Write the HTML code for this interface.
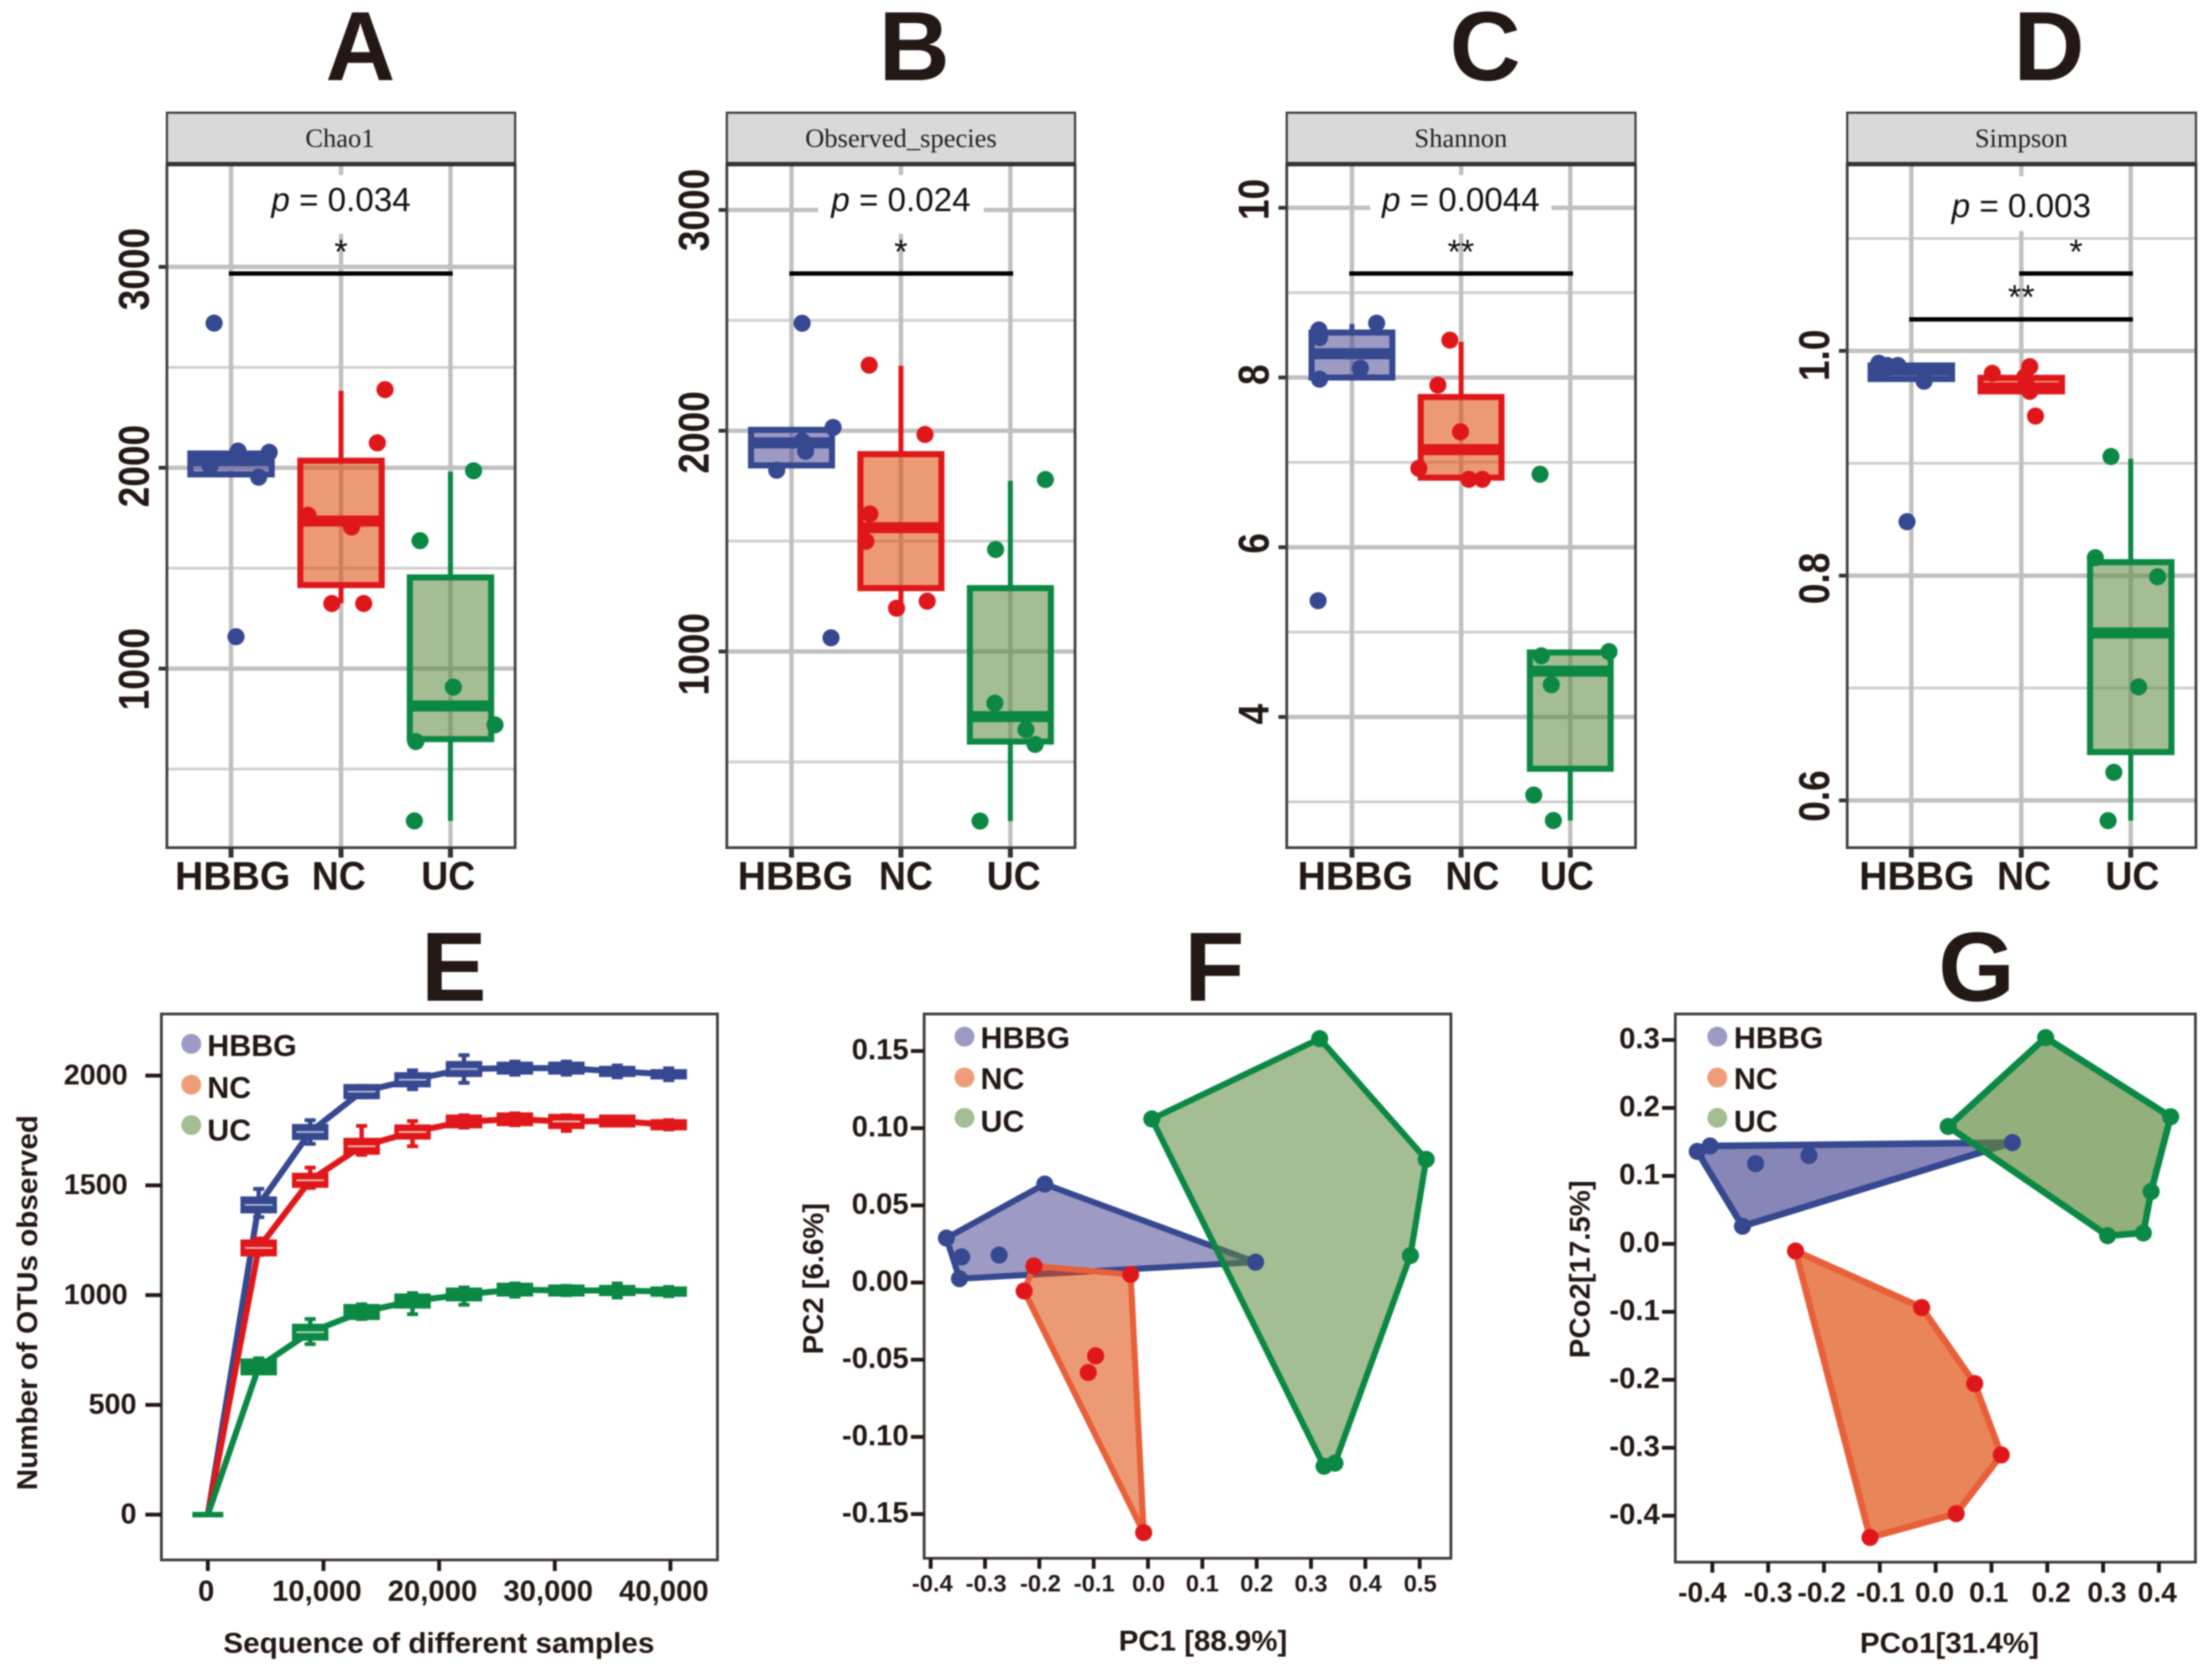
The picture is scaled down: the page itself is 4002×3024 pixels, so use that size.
<!DOCTYPE html>
<html lang="en">
<head>
<meta charset="utf-8">
<title>Alpha diversity, rarefaction and ordination panels</title>
<style>
html,body{margin:0;padding:0;background:#fff;width:4002px;height:3024px;overflow:hidden}
svg{display:block;filter:blur(1.4px)}
text{font-family:"Liberation Sans",sans-serif;fill:#231815}
.letter{font-size:178px;font-weight:700;text-anchor:middle}
.strip{font-family:"Liberation Serif",serif;font-size:48px;text-anchor:middle;fill:#222}
.pval{font-size:60px;text-anchor:middle;fill:#111}
.star{font-size:62px;text-anchor:middle;fill:#111}
.axt{font-size:52px;font-weight:700}
.leg{font-size:55px;font-weight:700}
</style>
</head>
<body>
<svg id="figure" xmlns="http://www.w3.org/2000/svg" width="4002" height="3024" viewBox="0 0 4002 3024">
<rect width="4002" height="3024" fill="#fff"/>

<text class="letter" x="652" y="145" textLength="126" lengthAdjust="spacingAndGlyphs">A</text>
<text class="letter" x="1654" y="145">B</text>
<text class="letter" x="2687" y="145">C</text>
<text class="letter" x="3707" y="145">D</text>
<text class="letter" x="821" y="1811">E</text>
<text class="letter" x="2197" y="1811">F</text>
<text class="letter" x="3576" y="1811">G</text>

<g id="panel-a"></g>
<g id="panel-b"></g>
<g id="panel-c"></g>
<g id="panel-d"></g>

<g>
  <rect x="302" y="204" width="630" height="92" fill="#d9d9d9" stroke="#404040" stroke-width="4"/>
  <rect x="302" y="293" width="630" height="8" fill="#333"/>
  <text class="strip" x="615" y="266">Chao1</text>
  <rect x="467" y="317" width="300" height="106" fill="#fff"/>
  <text class="pval" x="617" y="382"><tspan font-style="italic">p</tspan> = 0.034</text>
  <text class="star" x="617" y="477">*</text>
  <rect x="414" y="491" width="405" height="8" fill="#000"/>
</g>
<g>
  <rect x="1315" y="204" width="630" height="92" fill="#d9d9d9" stroke="#404040" stroke-width="4"/>
  <rect x="1315" y="293" width="630" height="8" fill="#333"/>
  <text class="strip" x="1630" y="266">Observed_species</text>
  <rect x="1480" y="317" width="300" height="106" fill="#fff"/>
  <text class="pval" x="1630" y="382"><tspan font-style="italic">p</tspan> = 0.024</text>
  <text class="star" x="1630" y="477">*</text>
  <rect x="1428" y="491" width="405" height="8" fill="#000"/>
</g>
<g>
  <rect x="2328" y="204" width="631" height="92" fill="#d9d9d9" stroke="#404040" stroke-width="4"/>
  <rect x="2328" y="293" width="631" height="8" fill="#333"/>
  <text class="strip" x="2643" y="266">Shannon</text>
  <rect x="2479" y="317" width="328" height="106" fill="#fff"/>
  <text class="pval" x="2643" y="382"><tspan font-style="italic">p</tspan> = 0.0044</text>
  <text class="star" x="2643" y="477">**</text>
  <rect x="2441" y="491" width="405" height="8" fill="#000"/>
</g>
<g>
  <rect x="3342" y="204" width="631" height="92" fill="#d9d9d9" stroke="#404040" stroke-width="4"/>
  <rect x="3342" y="293" width="631" height="8" fill="#333"/>
  <text class="strip" x="3657" y="266">Simpson</text>
  <rect x="3507" y="319" width="300" height="99" fill="#fff"/>
  <text class="pval" x="3657" y="393"><tspan font-style="italic">p</tspan> = 0.003</text>
  <text class="star" x="3756" y="477">*</text>
  <rect x="3653" y="491" width="206" height="8" fill="#000"/>
  <text class="star" x="3657" y="559">**</text>
  <rect x="3454" y="574" width="405" height="8" fill="#000"/>
</g>

<g id="panel-e"></g>
<g id="panel-f"></g>
<g id="panel-g"></g>

<text class="axt" x="404" y="2991" textLength="780" lengthAdjust="spacingAndGlyphs">Sequence of different samples</text>
<text class="axt" transform="translate(67,2697) rotate(-90)" textLength="679" lengthAdjust="spacingAndGlyphs">Number of OTUs observed</text>
<text class="axt" x="2024" y="2987" textLength="305" lengthAdjust="spacingAndGlyphs">PC1 [88.9%]</text>
<text class="axt" transform="translate(1489,2451) rotate(-90)" textLength="274" lengthAdjust="spacingAndGlyphs">PC2 [6.6%]</text>
<text class="axt" x="3365" y="2991" textLength="324" lengthAdjust="spacingAndGlyphs">PCo1[31.4%]</text>
<text class="axt" transform="translate(2876,2458) rotate(-90)" textLength="322" lengthAdjust="spacingAndGlyphs">PCo2[17.5%]</text>

<g>
  <circle cx="346" cy="1889" r="18" fill="#9d9ac4"/>
  <text class="leg" x="375" y="1911">HBBG</text>
  <circle cx="346" cy="1963" r="18" fill="#ee9d78"/>
  <text class="leg" x="375" y="1987">NC</text>
  <circle cx="346" cy="2036" r="18" fill="#a5bd93"/>
  <text class="leg" x="375" y="2064">UC</text>
</g>
<g>
  <circle cx="1745" cy="1876" r="18" fill="#9d9ac4"/>
  <text class="leg" x="1774" y="1897">HBBG</text>
  <circle cx="1745" cy="1950" r="18" fill="#ee9d78"/>
  <text class="leg" x="1774" y="1971">NC</text>
  <circle cx="1745" cy="2023" r="18" fill="#a5bd93"/>
  <text class="leg" x="1774" y="2048">UC</text>
</g>
<g>
  <circle cx="3107" cy="1876" r="18" fill="#9d9ac4"/>
  <text class="leg" x="3137" y="1897">HBBG</text>
  <circle cx="3107" cy="1950" r="18" fill="#ee9d78"/>
  <text class="leg" x="3137" y="1971">NC</text>
  <circle cx="3107" cy="2023" r="18" fill="#a5bd93"/>
  <text class="leg" x="3137" y="2048">UC</text>
</g>
</svg>

<script>
/* ---------- shared categories ---------- */
const groups = ['HBBG', 'NC', 'UC'];

/* ---------- A: Chao1 ---------- */
const chao1Ticks = [1000, 2000, 3000];
const chao1TickLabels = ['1000', '2000', '3000'];
const chao1Minor = [500, 1500, 2500];
const chao1Q1 = [1967, 1416, 649];
const chao1Median = [2036, 1735, 814];
const chao1Q3 = [2071, 2035, 1454];
const chao1Low = [1967, 1325, 242];
const chao1High = [2071, 2383, 1980];
const chao1Values = [[2720, 1159, 2083, 2077, 1953, 2009], [2389, 2124, 1764, 1705, 1324, 1324], [1985, 1637, 908, 720, 637, 242]];
const chao1Jitter = [[-0.154, 0.045, 0.064, 0.347, 0.251, -0.19], [0.40, 0.33, -0.30, 0.096, -0.084, 0.206], [0.21, -0.277, 0.026, 0.405, -0.315, -0.328]];

/* ---------- B: Observed_species ---------- */
const speciesTicks = [1000, 2000, 3000];
const speciesTickLabels = ['1000', '2000', '3000'];
const speciesMinor = [500, 1500, 2500];
const speciesQ1 = [1843, 1287, 592];
const speciesMedian = [1945, 1561, 705];
const speciesQ3 = [2004, 1894, 1287];
const speciesLow = [1843, 1196, 232];
const speciesHigh = [2004, 2294, 1773];
const speciesValues = [[2487, 1062, 2015, 1907, 1821, 1953], [2297, 1983, 1623, 1499, 1196, 1228], [1779, 1462, 766, 646, 579, 232]];
const speciesJitter = [[0.097, 0.361, 0.38, 0.129, -0.135, 0.097], [-0.29, 0.22, -0.284, -0.32, -0.04, 0.24], [0.32, -0.135, -0.142, 0.142, 0.226, -0.277]];

/* ---------- C: Shannon ---------- */
const shannonTicks = [4, 6, 8, 10];
const shannonTickLabels = ['4', '6', '8', '10'];
const shannonMinor = [3, 5, 7, 9];
const shannonQ1 = [8.0, 6.82, 3.39];
const shannonMedian = [8.28, 7.15, 4.54];
const shannonQ3 = [8.53, 7.77, 4.76];
const shannonLow = [8.0, 6.82, 2.78];
const shannonHigh = [8.63, 8.42, 4.76];
const shannonValues = [[8.64, 8.56, 8.47, 8.11, 7.98, 5.37], [8.44, 7.91, 7.36, 6.93, 6.80, 6.80], [6.86, 4.77, 4.72, 4.38, 3.08, 2.78]];
const shannonJitter = [[0.226, -0.303, -0.297, 0.077, -0.297, -0.31], [-0.103, -0.213, -0.006, -0.387, 0.071, 0.194], [-0.277, 0.355, -0.265, -0.174, -0.335, -0.155]];

/* ---------- D: Simpson ---------- */
const simpsonTicks = [0.6, 0.8, 1.0];
const simpsonTickLabels = ['0.6', '0.8', '1.0'];
const simpsonMinor = [0.7, 0.9, 1.1];
const simpsonQ1 = [0.975, 0.964, 0.643];
const simpsonMedian = [0.983, 0.967, 0.749];
const simpsonQ3 = [0.987, 0.976, 0.812];
const simpsonLow = [0.975, 0.964, 0.582];
const simpsonHigh = [0.987, 0.976, 0.904];
const simpsonValues = [[0.989, 0.987, 0.987, 0.973, 0.848, 0.98], [0.98, 0.986, 0.977, 0.964, 0.942, 0.97], [0.906, 0.816, 0.799, 0.701, 0.625, 0.582]];
const simpsonJitter = [[-0.296, -0.219, -0.122, 0.116, -0.039, -0.27], [-0.264, 0.077, 0.032, 0.077, 0.129, 0.045], [-0.18, -0.322, 0.244, 0.071, -0.154, -0.206]];

/* ---------- E: rarefaction ---------- */
const rareDepth = [0, 4400, 8850, 13300, 17700, 22150, 26550, 31000, 35400, 39850];
const rareXTicks = [0, 10000, 20000, 30000, 40000];
const rareXLabels = ['0', '10,000', '20,000', '30,000', '40,000'];
const rareYTicks = [0, 500, 1000, 1500, 2000];
const rareYLabels = ['0', '500', '1000', '1500', '2000'];
const rareHbbg = [0, 1411, 1743, 1927, 1981, 2030, 2034, 2034, 2019, 2006];
const rareNc = [0, 1215, 1523, 1678, 1743, 1791, 1801, 1791, 1793, 1776];
const rareUc = [0, 673, 831, 923, 973, 1003, 1025, 1021, 1021, 1016];
const rareHbbgBox = [0, 26, 24, 22, 22, 24, 17, 17, 13, 11];
const rareNcBox = [0, 26, 22, 26, 22, 19, 19, 22, 17, 13];
const rareUcBox = [0, 26, 26, 24, 22, 19, 19, 15, 13, 11];
const rareHbbgUp = [0, 73, 54, 26, 43, 63, 30, 30, 27, 27];
const rareHbbgDown = [0, 56, 54, 26, 43, 63, 30, 30, 27, 27];
const rareNcUp = [0, 43, 58, 93, 50, 28, 27, 28, 19, 21];
const rareNcDown = [0, 32, 35, 39, 65, 28, 27, 43, 19, 21];
const rareUcUp = [0, 39, 60, 35, 36, 32, 28, 21, 32, 21];
const rareUcDown = [0, 26, 54, 32, 60, 47, 32, 21, 32, 21];

/* ---------- F: PCA ---------- */
const pcaXTicks = [-0.4, -0.3, -0.2, -0.1, 0, 0.1, 0.2, 0.3, 0.4, 0.5];
const pcaXLabels = ['-0.4', '-0.3', '-0.2', '-0.1', '0.0', '0.1', '0.2', '0.3', '0.4', '0.5'];
const pcaYTicks = [-0.15, -0.10, -0.05, 0, 0.05, 0.10, 0.15];
const pcaYLabels = ['-0.15', '-0.10', '-0.05', '0.00', '0.05', '0.10', '0.15'];
const pcaHbbgX = [-0.371, -0.19, 0.198, -0.347, -0.343, -0.274];
const pcaHbbgY = [0.0288, 0.0638, 0.0132, 0.0025, 0.0166, 0.0178];
const pcaNcX = [-0.21, -0.032, -0.008, -0.228, -0.0965, -0.11];
const pcaNcY = [0.0107, 0.0052, -0.162, -0.0055, -0.0475, -0.0583];
const pcaUcX = [0.316, 0.512, 0.483, 0.344, 0.324, 0.007];
const pcaUcY = [0.158, 0.0798, 0.0175, -0.117, -0.119, 0.106];
const pcaHbbgHull = [0, 1, 2, 3];
const pcaNcHull = [0, 1, 2, 3];
const pcaUcHull = [0, 1, 2, 3, 4, 5];

/* ---------- G: PCoA ---------- */
const pcoaXTicks = [-0.4, -0.3, -0.2, -0.1, 0, 0.1, 0.2, 0.3, 0.4];
const pcoaXLabels = ['-0.4', '-0.3', '-0.2', '-0.1', '0.0', '0.1', '0.2', '0.3', '0.4'];
const pcoaYTicks = [-0.4, -0.3, -0.2, -0.1, 0, 0.1, 0.2, 0.3];
const pcoaYLabels = ['-0.4', '-0.3', '-0.2', '-0.1', '0.0', '0.1', '0.2', '0.3'];
const pcoaHbbgX = [-0.427, -0.404, 0.1375, -0.346, -0.3225, -0.227];
const pcoaHbbgY = [0.136, 0.144, 0.149, 0.0259, 0.118, 0.13];
const pcoaNcX = [-0.251, -0.025, 0.07, 0.1175, 0.0367, -0.1175];
const pcoaNcY = [-0.0105, -0.0937, -0.2056, -0.3105, -0.397, -0.432];
const pcoaUcX = [0.197, 0.421, 0.386, 0.372, 0.308, 0.0225];
const pcoaUcY = [0.3035, 0.187, 0.077, 0.016, 0.012, 0.1727];
const pcoaHbbgHull = [0, 1, 2, 3];
const pcoaNcHull = [0, 1, 2, 3, 4, 5];
const pcoaUcHull = [0, 1, 2, 3, 4, 5];

/* ---------- palette ---------- */
const lineColors = ['#36488f', '#e0171a', '#0b8844'];
const fillColors = ['#504b96', '#dd4b0a', '#5f893e'];
const hullEdges = ['#36488f', '#e8603a', '#0b8844'];
const INK = '#231815';
const NS = 'http://www.w3.org/2000/svg';

function linear(d0, d1, p0, p1) {
  return function (v) { return p0 + (v - d0) / (d1 - d0) * (p1 - p0); };
}
function add(parent, tag, attrs, txt) {
  const n = document.createElementNS(NS, tag);
  for (const k in attrs) n.setAttribute(k, attrs[k]);
  if (txt !== undefined) n.textContent = txt;
  parent.appendChild(n);
  return n;
}

function drawBoxPanel(id, cfg, d) {
  const root = document.getElementById(id);
  const y = linear(cfg.d0, cfg.d1, cfg.p0, cfg.p1);
  const cat = function (i) { return cfg.catPx[i]; };
  const unit = cfg.catPx[1] - cfg.catPx[0];
  const top = 298, bottom = 1534;

  d.minor.forEach(function (v) {
    const m = add(root, 'line', { x1: cfg.left, x2: cfg.right, y1: y(v), y2: y(v), stroke: '#cfcfcf', 'stroke-width': 5 });
    
    
  });
  d.ticks.forEach(function (v, i) {
    const g = add(root, 'line', { x1: cfg.left, x2: cfg.right, y1: y(v), y2: y(v), stroke: '#c0c0c0', 'stroke-width': 8 });
    
    
    const t = add(root, 'line', { x1: cfg.left - 15, x2: cfg.left, y1: y(v), y2: y(v), stroke: '#333', 'stroke-width': 7 });
    
    
    const l = add(root, 'text', { transform: 'translate(' + (cfg.left - 33) + ',' + (y(v) + cfg.labelNudge[i]) + ') rotate(-90) scale(0.86,1)', 'text-anchor': 'middle', 'font-size': 78, 'font-weight': 700 }, d.labels[i]);
    
    
  });
  groups.forEach(function (g, i) {
    const v = add(root, 'line', { x1: cat(i), x2: cat(i), y1: top, y2: bottom, stroke: '#c0c0c0', 'stroke-width': 8 });
    
    
  });
  const frame = add(root, 'rect', { x: cfg.left, y: top, width: cfg.right - cfg.left, height: bottom - top, fill: 'none', stroke: '#404040', 'stroke-width': 5 });
  
  

  groups.forEach(function (g, i) {
    const c = lineColors[i];
    const cx = cat(i);
    const w = unit * 0.74;
    const tk = add(root, 'line', { x1: cx, x2: cx, y1: bottom, y2: bottom + 18, stroke: '#333', 'stroke-width': 9 });
    
    
    const sx = g.length > 2 ? 0.985 : 0.94;
    const lb = add(root, 'text', { transform: 'translate(' + cfg.labelPx[i] + ',1610) scale(' + sx + ',1)', 'text-anchor': 'middle', 'font-size': 72, 'font-weight': 700 }, g);
    
    
    const wh = add(root, 'line', { x1: cx, x2: cx, y1: y(d.high[i]), y2: y(d.q3[i]), stroke: c, 'stroke-width': 9 });
    
    
    const wl = add(root, 'line', { x1: cx, x2: cx, y1: y(d.q1[i]), y2: y(d.low[i]), stroke: c, 'stroke-width': 9 });
    
    
    const box = add(root, 'rect', { x: cx - w / 2, y: y(d.q3[i]), width: w, height: y(d.q1[i]) - y(d.q3[i]), fill: fillColors[i], 'fill-opacity': 0.56, stroke: c, 'stroke-width': 11 });
    
    
    const med = add(root, 'line', { x1: cx - w / 2, x2: cx + w / 2, y1: y(d.median[i]), y2: y(d.median[i]), stroke: c, 'stroke-width': 20 });
    
    
    d.values[i].forEach(function (v, j) {
      const p = add(root, 'circle', { cx: cx + d.jitter[i][j] * unit, cy: y(v), r: 15.5, fill: c });
      
      
    });
  });
}

drawBoxPanel('panel-a',
  { left: 302, right: 932, d0: 1000, d1: 3000, p0: 1210, p1: 483, catPx: [418, 617, 815], labelPx: [421, 613, 811], labelNudge: [1, -3, 4] },
  { ticks: chao1Ticks, labels: chao1TickLabels, minor: chao1Minor, q1: chao1Q1, median: chao1Median, q3: chao1Q3, low: chao1Low, high: chao1High, values: chao1Values, jitter: chao1Jitter });
drawBoxPanel('panel-b',
  { left: 1315, right: 1945, d0: 1000, d1: 3000, p0: 1179, p1: 380, catPx: [1432, 1630, 1828], labelPx: [1439, 1639, 1834], labelNudge: [5, 3, 0] },
  { ticks: speciesTicks, labels: speciesTickLabels, minor: speciesMinor, q1: speciesQ1, median: speciesMedian, q3: speciesQ3, low: speciesLow, high: speciesHigh, values: speciesValues, jitter: speciesJitter });
drawBoxPanel('panel-c',
  { left: 2328, right: 2959, d0: 4, d1: 10, p0: 1297.5, p1: 376, catPx: [2446, 2643.5, 2841], labelPx: [2452, 2664, 2835], labelNudge: [-5, -7, -5, -15] },
  { ticks: shannonTicks, labels: shannonTickLabels, minor: shannonMinor, q1: shannonQ1, median: shannonMedian, q3: shannonQ3, low: shannonLow, high: shannonHigh, values: shannonValues, jitter: shannonJitter });
drawBoxPanel('panel-d',
  { left: 3342, right: 3973, d0: 0.6, d1: 1.0, p0: 1448.5, p1: 635, catPx: [3458, 3657, 3855], labelPx: [3468, 3662, 3858], labelNudge: [-8, 5, 8] },
  { ticks: simpsonTicks, labels: simpsonTickLabels, minor: simpsonMinor, q1: simpsonQ1, median: simpsonMedian, q3: simpsonQ3, low: simpsonLow, high: simpsonHigh, values: simpsonValues, jitter: simpsonJitter });

/* ---------- E drawing ---------- */
(function () {
  const root = document.getElementById('panel-e');
  const x = linear(0, 40000, 376, 1213);
  const y = linear(0, 2000, 2741, 1946.5);
  const frame = add(root, 'rect', { x: 292, y: 1835, width: 1006, height: 988, fill: '#fff', stroke: '#403c3a', 'stroke-width': 5 });
  
  
  rareYTicks.forEach(function (v, i) {
    const t = add(root, 'line', { x1: 263, x2: 292, y1: y(v), y2: y(v), stroke: INK, 'stroke-width': 7 });
    
    
    const lx = rareYLabels[i].length === 4 ? 231 : 247;
    const l = add(root, 'text', { x: lx, y: y(v) + 16, 'text-anchor': 'end', 'font-size': 52, 'font-weight': 700 }, rareYLabels[i]);
    
    
  });
  rareXTicks.forEach(function (v, i) {
    const t = add(root, 'line', { x1: x(v), x2: x(v), y1: 2823, y2: 2843, stroke: INK, 'stroke-width': 7 });
    
    
    const off = i === 0 ? -3 : -12;
    const l = add(root, 'text', { x: x(v) + off, y: 2897, 'text-anchor': 'middle', 'font-size': 53, 'font-weight': 700 }, rareXLabels[i]);
    
    
  });
  const series = [
    { name: 'hbbg', v: rareHbbg, b: rareHbbgBox, u: rareHbbgUp, d: rareHbbgDown, c: lineColors[0], inner: '#b9bedc' },
    { name: 'nc', v: rareNc, b: rareNcBox, u: rareNcUp, d: rareNcDown, c: lineColors[1], inner: '#f6c9bf' },
    { name: 'uc', v: rareUc, b: rareUcBox, u: rareUcUp, d: rareUcDown, c: lineColors[2], inner: '#bcd8c4' }
  ];
  series.forEach(function (s) {
    const pts = rareDepth.map(function (q, i) { return x(q) + ',' + y(s.v[i]); }).join(' ');
    const line = add(root, 'polyline', { points: pts, fill: 'none', stroke: s.c, 'stroke-width': 11 });
    
    
    rareDepth.forEach(function (q, i) {
      const cx = x(q), hw = i === 0 ? 28 : 33;
      const wh = add(root, 'line', { x1: cx, x2: cx, y1: y(s.v[i] + s.u[i]), y2: y(s.v[i] - s.d[i]), stroke: s.c, 'stroke-width': 8 });
      
      
      const cu = add(root, 'line', { x1: cx - 10, x2: cx + 10, y1: y(s.v[i] + s.u[i]), y2: y(s.v[i] + s.u[i]), stroke: s.c, 'stroke-width': 7 });
      
      
      const cd = add(root, 'line', { x1: cx - 10, x2: cx + 10, y1: y(s.v[i] - s.d[i]), y2: y(s.v[i] - s.d[i]), stroke: s.c, 'stroke-width': 7 });
      
      
      const box = add(root, 'rect', { x: cx - hw, y: y(s.v[i] + s.b[i]) - 5, width: hw * 2, height: y(s.v[i] - s.b[i]) - y(s.v[i] + s.b[i]) + 10, fill: s.c });
      
      
      if (s.b[i] >= 22 && s.name !== 'uc' || (s.name === 'uc' && i === 2)) {
        const inn = add(root, 'line', { x1: cx - hw + 8, x2: cx + hw - 8, y1: y(s.v[i]), y2: y(s.v[i]), stroke: s.inner, 'stroke-width': 3 });
        
        
      }
    });
  });
})();

/* ---------- F / G drawing ---------- */
function drawOrdination(id, cfg, d) {
  const root = document.getElementById(id);
  const x = linear(cfg.xd0, cfg.xd1, cfg.xp0, cfg.xp1);
  const y = linear(cfg.yd0, cfg.yd1, cfg.yp0, cfg.yp1);
  const frame = add(root, 'rect', { x: cfg.left, y: cfg.top, width: cfg.right - cfg.left, height: cfg.bottom - cfg.top, fill: '#fff', stroke: '#403c3a', 'stroke-width': 5 });
  
  
  d.yTicks.forEach(function (v, i) {
    const t = add(root, 'line', { x1: cfg.left - 24, x2: cfg.left, y1: y(v), y2: y(v), stroke: INK, 'stroke-width': 7 });
    
    
    const l = add(root, 'text', { x: cfg.left - 28, y: y(v) + 15, 'text-anchor': 'end', 'font-size': 53, 'font-weight': 700 }, d.yLabels[i]);
    
    
  });
  d.xTicks.forEach(function (v, i) {
    const t = add(root, 'line', { x1: x(v), x2: x(v), y1: cfg.bottom, y2: cfg.bottom + 19, stroke: INK, 'stroke-width': 7 });
    
    
    const l = add(root, 'text', { x: x(v) + cfg.labelShift[i], y: cfg.labelY, 'text-anchor': 'middle', 'font-size': cfg.labelSize, 'font-weight': 700 }, d.xLabels[i]);
    
    
  });
  groups.forEach(function (g, i) {
    const pts = d.hull[i].map(function (k) { return x(d.xs[i][k]) + ',' + y(d.ys[i][k]); }).join(' ');
    const poly = add(root, 'polygon', { points: pts, fill: fillColors[i], 'fill-opacity': cfg.alpha, stroke: hullEdges[i], 'stroke-width': cfg.edge, 'stroke-linejoin': 'round' });
    
    
  });
  groups.forEach(function (g, i) {
    d.xs[i].forEach(function (v, k) {
      const p = add(root, 'circle', { cx: x(v), cy: y(d.ys[i][k]), r: 15.5, fill: lineColors[i] });
      
      
    });
  });
}

drawOrdination('panel-f',
  { left: 1672, right: 2625, top: 1835, bottom: 2820, xd0: 0, xd1: 0.5, xp0: 2077, xp1: 2568.5, yd0: 0, yd1: 0.15, yp0: 2321, yp1: 1902, labelShift: [3, 2, 2, 1, 1, 0, 0, 0, 0, 1], labelY: 2880, labelSize: 43, alpha: 0.56, edge: 11 },
  { xTicks: pcaXTicks, xLabels: pcaXLabels, yTicks: pcaYTicks, yLabels: pcaYLabels, xs: [pcaHbbgX, pcaNcX, pcaUcX], ys: [pcaHbbgY, pcaNcY, pcaUcY], hull: [pcaHbbgHull, pcaNcHull, pcaUcHull] });

drawOrdination('panel-g',
  { left: 3031, right: 3972, top: 1835, bottom: 2827, xd0: 0, xd1: 0.4, xp0: 3502, xp1: 3906, yd0: 0, yd1: 0.3, yp0: 2251, yp1: 1882, labelShift: [-18, 0, -4, 1, -2, -5, 7, 7, -3], labelY: 2899, labelSize: 51, alpha: 0.68, edge: 12 },
  { xTicks: pcoaXTicks, xLabels: pcoaXLabels, yTicks: pcoaYTicks, yLabels: pcoaYLabels, xs: [pcoaHbbgX, pcoaNcX, pcoaUcX], ys: [pcoaHbbgY, pcoaNcY, pcoaUcY], hull: [pcoaHbbgHull, pcoaNcHull, pcoaUcHull] });
</script>
</body>
</html>
